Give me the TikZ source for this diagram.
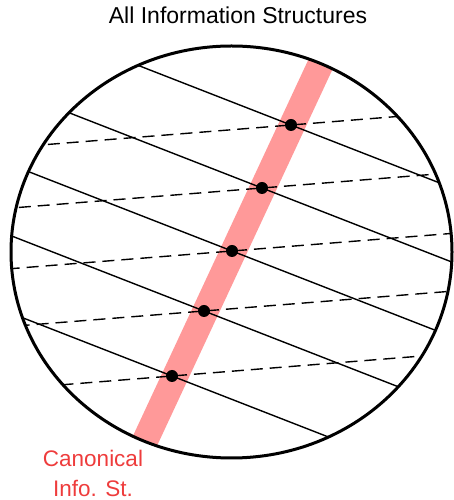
\documentclass[tikz,border=0pt]{standalone}
\usepackage{fontspec}
\setmainfont{Liberation Sans}
\usetikzlibrary{positioning}
\definecolor{bandpink}{RGB}{255,153,153}
\definecolor{labelred}{RGB}{238,60,60}
\tikzstyle{dot} = [circle, fill=black, inner sep=0pt, minimum size=12pt]
\tikzstyle{solidline} = [line width=1.4pt]
\tikzstyle{dashline} = [line width=1.4pt, dash pattern=on 12pt off 7pt]
\tikzstyle{band} = [line width=26pt, draw=bandpink]
\tikzstyle{bigtext} = [font=\fontsize{23}{30}\selectfont, inner sep=0pt]

\begin{document}
\begin{tikzpicture}[x=1pt, y=1pt]

\useasboundingbox (0,0) rectangle (454,500);

\node [bigtext, anchor=base] (title) at (238,476) {All Information Structures};
\node [bigtext, text=labelred, align=center, font=\fontsize{22.5}{30}\selectfont] (canon) at (93,27) {Canonical\\Info. St.};

% points on the canonical band
\coordinate (p1) at (291,375);
\coordinate (p2) at (262,312);
\coordinate (p3) at (232,249);
\coordinate (p4) at (204,189);
\coordinate (p5) at (172,124);

\begin{scope}
\clip (231.5,248) ellipse [x radius=220.5, y radius=206];
\draw [band] (137,42) -- (330,456);
\foreach \p in {p1,p2,p3,p4,p5} {
  \draw [solidline] (\p) ++(-300,117) -- ++(600,-234);
  \draw [dashline] (\p) ++(-300,-24) -- ++(600,48);
}
\end{scope}

\foreach \i in {1,...,5}
  \node [dot] (d\i) at (p\i) {};

\draw [line width=3pt] (231.5,248) ellipse [x radius=220.5, y radius=206];

\end{tikzpicture}
\end{document}
